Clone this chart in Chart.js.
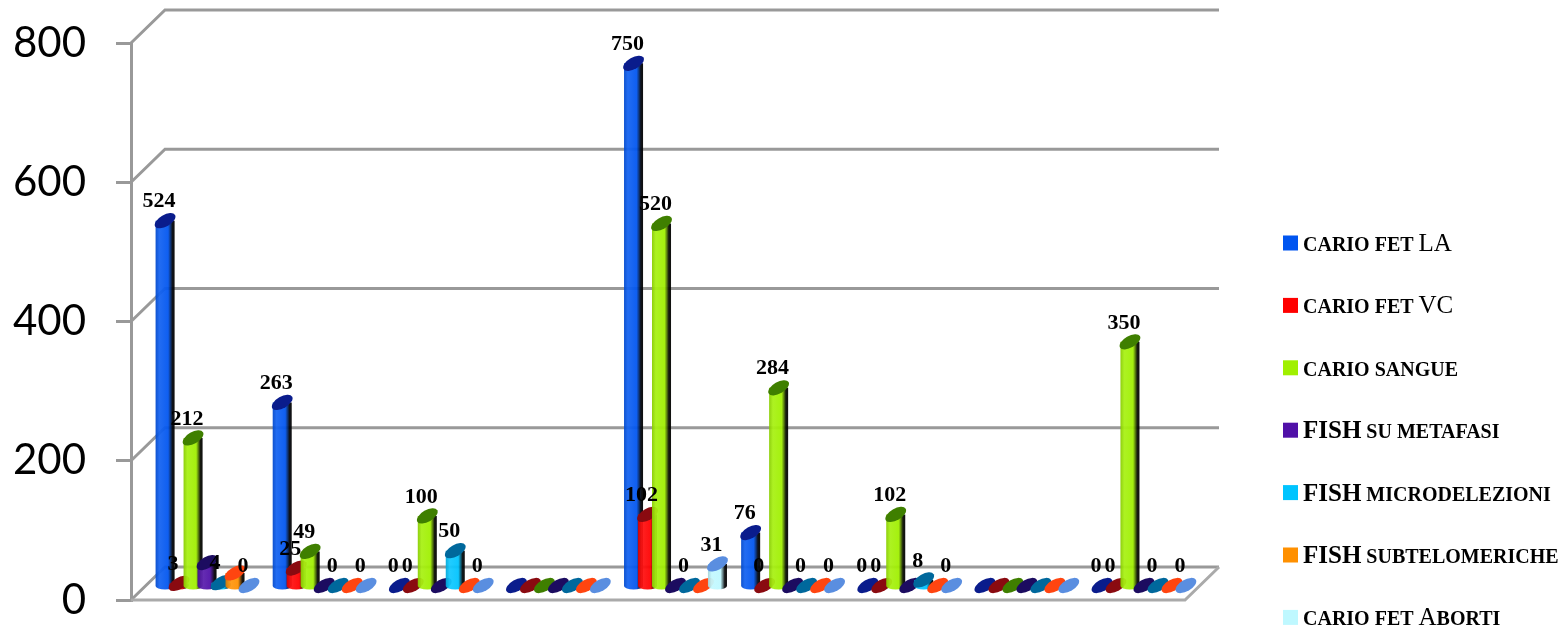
<!DOCTYPE html>
<html>
<head>
<meta charset="utf-8">
<title>Esami citogenetici</title>
<script src="https://cdn.jsdelivr.net/npm/chart.js@4"></script>
<style>
    html, body { margin: 0; padding: 0; background: #fff; }
    canvas { display: block; }
</style>
</head>
<body>
<canvas id="examChart" width="1563" height="627"></canvas>
<script>
// One entry per centre; the centres have no printed name
const categories = ['1', '2', '3', '4', '5', '6', '7', '8', '9'];

// Lower case letters come out as small caps on the legend
const seriesNames = [
    'cario fet LA',
    'cario fet VC',
    'cario sangue',
    'FISH su metafasi',
    'FISH microdelezioni',
    'FISH subtelomeriche',
    'cario fet Aborti'
];

const carioLA = [524, 263, 0, 0, 750, 76, 0, 0, 0];
const carioVC = [3, 25, 0, 0, 102, 0, 0, 0, 0];
const carioSangue = [212, 49, 100, 0, 520, 284, 102, 0, 350];
const fishMetafasi = [33, 0, 0, 0, 0, 0, 0, 0, 0];
const fishMicrodelezioni = [4, 0, 50, 0, 0, 0, 8, 0, 0];
const fishSubtelomeriche = [18, 0, 0, 0, 0, 0, 0, 0, 0];
const carioAborti = [0, 0, 0, 0, 31, 0, 0, 0, 0];

const seriesValues = [carioLA, carioVC, carioSangue, fishMetafasi, fishMicrodelezioni, fishSubtelomeriche, carioAborti];

const bodyColors = ['#0055f0', '#ff0000', '#a0f000', '#5010a8', '#00c4ff', '#ff9000', '#bff8ff'];
const capColors = ['#0a1c8c', '#8a0a10', '#3f7f00', '#1c0c60', '#00689c', '#ff4510', '#5a8ee0'];

// The value is only printed for these series
const labelledSeries = [0, 1, 2, 4, 6];
// ...and not on centres where nothing at all was recorded
const emptyCategories = [3, 7];

const yTicks = [0, 200, 400, 600, 800];

const GRID = '#999999';
const DEPTH_X = 34;
const DEPTH_Y = 33;
const BAR_LIFT = 14.5;
const BAR_SHIFT = 17.5;

function shade(hex, f) {
    const n = parseInt(hex.slice(1), 16);
    const c = [n >> 16, (n >> 8) & 255, n & 255].map(v => Math.round(f < 1 ? v * f : v + (255 - v) * (f - 1)));
    return `rgb(${c[0]},${c[1]},${c[2]})`;
}

// Back wall and floor of the 3D box
function drawBox(chart) {
    const ctx = chart.ctx;
    const y = chart.scales.y;
    const { left, right } = chart.chartArea;
    ctx.save();
    ctx.lineWidth = 3;
    ctx.strokeStyle = GRID;
    yTicks.forEach(t => {
        const py = y.getPixelForValue(t);
        ctx.beginPath();
        ctx.moveTo(left, py);
        ctx.lineTo(left + DEPTH_X, py - DEPTH_Y);
        ctx.lineTo(right + DEPTH_X, py - DEPTH_Y);
        ctx.stroke();
    });
    const py0 = y.getPixelForValue(0);
    ctx.strokeStyle = '#aaaaaa';
    ctx.beginPath();
    ctx.moveTo(left, py0);
    ctx.lineTo(right, py0);
    ctx.lineTo(right + DEPTH_X, py0 - DEPTH_Y);
    ctx.stroke();
    ctx.restore();
}

function drawCylinder(ctx, bar, index) {
    const cx = bar.x + BAR_SHIFT;
    const half = bar.width / 2;
    const top = bar.y - BAR_LIFT;
    const bottom = bar.base - BAR_LIFT;
    const tilt = -Math.PI / 6;
    const rx = 11.5;
    const ry = 5.8;

    if (bottom - top > 0.5) {
        const g = ctx.createLinearGradient(cx - half, 0, cx + half, 0);
        g.addColorStop(0, shade(bodyColors[index], 0.85));
        g.addColorStop(0.2, shade(bodyColors[index], 1.08));
        g.addColorStop(0.66, bodyColors[index]);
        g.addColorStop(0.78, shade(bodyColors[index], 0.5));
        g.addColorStop(0.88, shade(bodyColors[index], 0.05));
        g.addColorStop(1, '#000');
        ctx.fillStyle = g;
        ctx.globalAlpha = 0.94;
        ctx.beginPath();
        ctx.moveTo(cx - half, top);
        ctx.lineTo(cx + half, top);
        ctx.lineTo(cx + half, bottom);
        ctx.ellipse(cx, bottom + 2, half, 3.5, 0, 0, Math.PI);
        ctx.closePath();
        ctx.fill();
        ctx.globalAlpha = 1;
    }
    ctx.fillStyle = capColors[index];
    ctx.beginPath();
    ctx.ellipse(cx, top, rx, ry, tilt, 0, Math.PI * 2);
    ctx.fill();
}

function drawValues(chart) {
    const ctx = chart.ctx;
    ctx.save();
    ctx.font = 'bold 22px "Liberation Serif"';
    ctx.fillStyle = '#000';
    ctx.textAlign = 'center';
    ctx.textBaseline = 'middle';
    labelledSeries.forEach(s => {
        chart.getDatasetMeta(s).data.forEach((bar, i) => {
            if (emptyCategories.includes(i)) return;
            ctx.fillText(String(seriesValues[s][i]), bar.x + BAR_SHIFT - 6, bar.y - BAR_LIFT - 19);
        });
    });
    ctx.restore();
}

// Cylinders replace the flat rectangles of the bar controller
const cylinderPlugin = {
    id: 'cylinders',
    beforeDatasetsDraw(chart) {
        const ctx = chart.ctx;
        drawBox(chart);
        ctx.save();
        chart.data.datasets.forEach((ds, s) => {
            chart.getDatasetMeta(s).data.forEach(bar => drawCylinder(ctx, bar, s));
        });
        ctx.restore();
        drawValues(chart);
        return false;
    }
};

// Upper case runs stay large, lower case runs are set as smaller capitals
function drawLegendText(ctx, name, x, y) {
    const bigWeight = name.startsWith('FISH') ? 'bold' : 'normal';
    name.match(/[A-Z]+|[^A-Z]+/g).forEach(run => {
        const isBig = /^[A-Z]/.test(run);
        ctx.font = isBig ? `${bigWeight} 25px "Liberation Serif"` : 'bold 20px "Liberation Serif"';
        const text = run.toUpperCase();
        ctx.fillText(text, x, y);
        x += ctx.measureText(text).width;
    });
}

const sideLegend = {
    id: 'sideLegend',
    afterDraw(chart) {
        const ctx = chart.ctx;
        ctx.save();
        ctx.textBaseline = 'alphabetic';
        chart.data.datasets.forEach((ds, i) => {
            const rowY = 243 + i * 62.4;
            ctx.fillStyle = ds.backgroundColor;
            ctx.fillRect(1283, rowY - 7.5, 15, 15);
            ctx.fillStyle = '#000';
            drawLegendText(ctx, ds.label, 1303, rowY + 8);
        });
        ctx.restore();
    }
};

new Chart(document.getElementById('examChart'), {
    type: 'bar',
    data: {
        labels: categories,
        datasets: seriesNames.map((name, i) => ({
            label: name,
            data: seriesValues[i],
            backgroundColor: bodyColors[i],
            barPercentage: 1.36,
            categoryPercentage: 0.836
        }))
    },
    options: {
        responsive: false,
        animation: false,
        layout: { padding: { left: 0, top: 43, right: 378, bottom: 27 } },
        plugins: {
            legend: { display: false },
            tooltip: { enabled: false }
        },
        scales: {
            x: { display: false },
            y: {
                min: 0,
                max: 800,
                afterBuildTicks(scale) {
                    scale.ticks = yTicks.map(v => ({ value: v }));
                },
                afterFit(scale) {
                    scale.width = 131;
                    scale.paddingTop = 0;
                    scale.paddingBottom = 0;
                },
                border: { color: GRID, width: 3 },
                grid: {
                    color: GRID,
                    lineWidth: 3,
                    drawOnChartArea: false,
                    tickLength: 15
                },
                ticks: {
                    padding: 30,
                    color: '#000',
                    font: { family: 'Lato', size: 42 }
                }
            }
        }
    },
    plugins: [cylinderPlugin, sideLegend]
});
</script>
</body>
</html>
